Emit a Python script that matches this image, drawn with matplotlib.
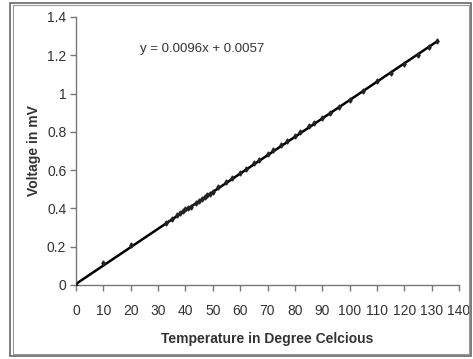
import matplotlib
matplotlib.use("Agg")
import matplotlib.pyplot as plt
from matplotlib.patches import Rectangle
import numpy as np

temperature = [0, 10, 20, 33, 35, 37, 38, 39, 40, 41, 42, 44, 45, 46, 47, 48, 49, 50,
               52, 55, 57, 60, 62, 65, 67, 70, 72, 75, 77, 80, 82, 85, 87, 90, 93,
               96, 100, 105, 110, 115, 120, 125, 129, 132]
voltage = [0.0, 0.115, 0.21, 0.325, 0.345, 0.365, 0.378, 0.385, 0.395, 0.402, 0.41,
           0.43, 0.44, 0.45, 0.458, 0.468, 0.475, 0.487, 0.51, 0.537, 0.56, 0.585,
           0.605, 0.637, 0.655, 0.685, 0.703, 0.73, 0.752, 0.78, 0.8, 0.828, 0.848,
           0.875, 0.9, 0.93, 0.968, 1.015, 1.065, 1.11, 1.155, 1.2, 1.245, 1.275]
slope = 0.0096
intercept = 0.0057
equation = "y = 0.0096x + 0.0057"
xlabel = "Temperature in Degree Celcious"
ylabel = "Voltage in mV"
xticks = list(range(0, 150, 10))
yticks = [0, 0.2, 0.4, 0.6, 0.8, 1.0, 1.2, 1.4]
yticklabels = ["0", "0.2", "0.4", "0.6", "0.8", "1", "1.2", "1.4"]

plt.rcParams['font.family'] = ['Liberation Sans', 'DejaVu Sans']

fig = plt.figure(figsize=(4.73, 3.59), dpi=100)
fig.patch.set_facecolor('white')
fig.patches.append(Rectangle((10/473, 3/359), 461/473, 353/359, transform=fig.transFigure,
                             fill=False, edgecolor='#666666', lw=1.2))
fig.patches.append(Rectangle((13/473, 5/359), 456/473, 349/359, transform=fig.transFigure,
                             fill=False, edgecolor='#999999', lw=0.8))

ax = fig.add_axes([76/473, 74/359, 383/473, 268/359])
ax.set_xlim(0, 140)
ax.set_ylim(0, 1.4)

xs = np.array([0, max(temperature)])
ax.plot(xs, slope * xs + intercept, color='black', lw=1.8, zorder=2)
ax.plot(temperature, voltage, linestyle='none', marker='d', markersize=2.6,
        color='#222222', zorder=3)

for s in ['top', 'right']:
    ax.spines[s].set_visible(False)
for s in ['left', 'bottom']:
    ax.spines[s].set_color('#777777')
    ax.spines[s].set_linewidth(1.0)

ax.set_xticks(xticks)
ax.set_xticklabels([str(t) for t in xticks])
ax.set_yticks(yticks)
ax.set_yticklabels(yticklabels)
ax.tick_params(axis='both', direction='out', length=4, width=1.0, color='#777777',
               labelsize=10, labelcolor='#333333')
ax.tick_params(axis='x', pad=10)
ax.tick_params(axis='y', pad=3)

ax.set_xlabel(xlabel, fontsize=10, fontweight='bold', color='#333333', labelpad=10)
ax.set_ylabel(ylabel, fontsize=10, fontweight='bold', color='#333333', labelpad=4)

ax.text(23.5, 1.235, equation, fontsize=9.5, color='#333333', ha='left', va='center')

fig.savefig("out.png", dpi=100, facecolor='white')
